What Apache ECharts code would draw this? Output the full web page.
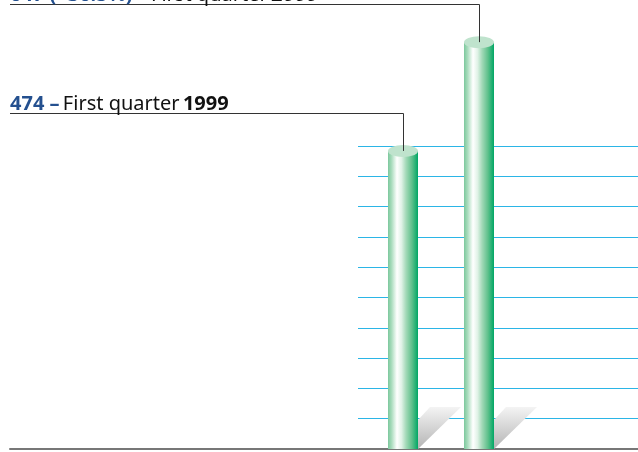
<!DOCTYPE html>
<html>
<head>
<meta charset="utf-8">
<script src="https://cdn.jsdelivr.net/npm/echarts@6/dist/echarts.min.js"></script>
<style>
  html, body { margin: 0; padding: 0; background: #fff; }
  #chart { width: 638px; height: 452px; }
</style>
</head>
<body>
<div id="chart"></div>
<script>
// quarterly values
var quarters = ['First quarter', 'First quarter'];
var years = ['1999', '2000'];
var values = [474, 647];
var changes = ['', '(+36.5%)'];
// light gridlines behind the bars
var gridTicks = [0, 48, 480];

var myChart = echarts.init(document.getElementById('chart'));

var cylinderColor = new echarts.graphic.LinearGradient(0, 0, 1, 0, [
    {offset: 0, color: '#7cc89d'},
    {offset: 0.12, color: '#a9dcbd'},
    {offset: 0.3, color: '#ffffff'},
    {offset: 0.45, color: '#e0f2e7'},
    {offset: 0.6, color: '#a3d9b8'},
    {offset: 0.8, color: '#5ec08b'},
    {offset: 1, color: '#00a765'}
]);

function shadowItem(params, api){
    var p = api.coord([api.value(0), 0]);
    var x = p[0], y = p[1];
    return {
        type: 'polygon',
        shape: {points: [[x + 15, y - 29], [x + 27, y - 42], [x + 58, y - 42], [x + 15, y]]},
        style: {
            fill: new echarts.graphic.LinearGradient(0, 0, 0, 1, [
                {offset: 0, color: '#f4f4f4'},
                {offset: 1, color: '#b4b4b4'}
            ])
        }
    };
}

function labelItem(params, api){
    var i = params.dataIndex;
    var top = api.coord([api.value(0), api.value(1)]);
    var lineY = Math.round(top[1] - 38) + 0.5;
    var num = values[i] + (changes[i] ? ' ' + changes[i] : '') + ' –';
    return {
        type: 'group',
        children: [{
            type: 'polyline',
            shape: {points: [[10, lineY], [Math.round(top[0]) + 0.5, lineY], [Math.round(top[0]) + 0.5, top[1]]]},
            style: {stroke: '#333', lineWidth: 1, fill: null}
        }, {
            type: 'text',
            x: 10,
            y: lineY + 1,
            style: {
                text: '{num|' + num + '} {txt|' + quarters[i] + '} {yr|' + years[i] + '}',
                verticalAlign: 'bottom',
                align: 'left',
                rich: {
                    num: {fontFamily: 'Noto Sans', fontSize: 20, lineHeight: 20, fontWeight: 'bold', fill: '#24508f'},
                    txt: {fontFamily: 'Noto Sans', fontSize: 20, lineHeight: 20, fill: '#111'},
                    yr: {fontFamily: 'Noto Sans', fontSize: 20, lineHeight: 20, fontWeight: 'bold', fill: '#111'}
                }
            }
        }]
    };
}

var option = {
    animation: false,
    backgroundColor: '#fff',
    grid: [
        {left: 365, width: 152, top: 0, bottom: 3},
        {left: 358, right: 0, top: 146, bottom: 3},
        {left: 10, right: 0, top: 448, bottom: 3}
    ],
    xAxis: [
        {gridIndex: 0, type: 'category', data: years, show: false},
        {gridIndex: 1, type: 'value', min: 0, max: 1, show: false},
        {gridIndex: 2, type: 'value', min: 0, max: 1,
         axisLine: {show: true, lineStyle: {color: '#777', width: 2}},
         axisTick: {show: false}, axisLabel: {show: false}, splitLine: {show: false}}
    ],
    yAxis: [
        {gridIndex: 0, type: 'value', min: 0, max: 714, show: false},
        {gridIndex: 1, type: 'value', min: gridTicks[0], max: gridTicks[2], interval: gridTicks[1],
         axisLine: {show: false}, axisTick: {show: false}, axisLabel: {show: false},
         splitLine: {show: true, lineStyle: {color: '#2bb5e6', width: 1}}},
        {gridIndex: 2, type: 'value', min: 0, max: 1, show: false}
    ],
    series: [
        {
            type: 'custom',
            xAxisIndex: 0, yAxisIndex: 0,
            renderItem: shadowItem,
            data: values.map(function(v, i){ return [i, v]; }),
            z: 3
        },
        {
            type: 'bar',
            xAxisIndex: 0, yAxisIndex: 0,
            data: values,
            barWidth: 30,
            itemStyle: {color: cylinderColor},
            z: 5
        },
        {
            type: 'pictorialBar',
            xAxisIndex: 0, yAxisIndex: 0,
            data: values,
            symbol: 'circle',
            symbolSize: [30, 12],
            symbolPosition: 'end',
            symbolOffset: [0, '-50%'],
            itemStyle: {color: '#bfe3cd'},
            z: 6
        },
        {
            type: 'custom',
            xAxisIndex: 0, yAxisIndex: 0,
            renderItem: labelItem,
            data: values.map(function(v, i){ return [i, v]; }),
            z: 7
        }
    ]
};
myChart.setOption(option);
</script>
</body>
</html>
